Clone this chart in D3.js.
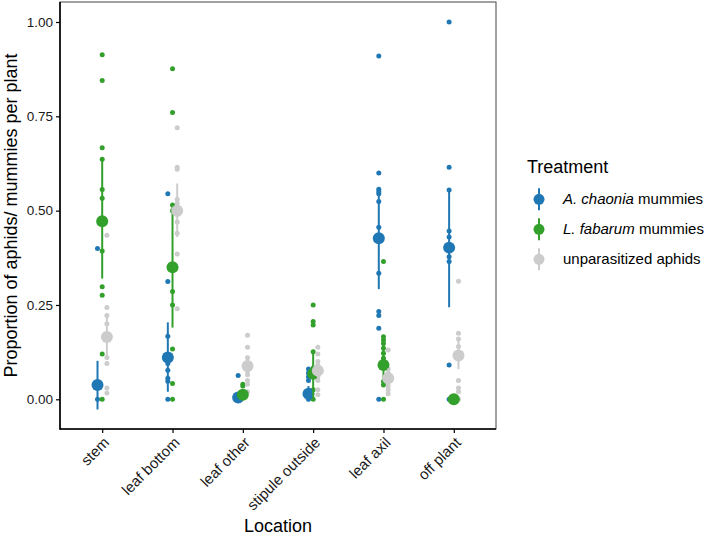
<!DOCTYPE html>
<html>
<head>
<meta charset="utf-8">
<script src="https://cdn.jsdelivr.net/npm/d3@7"></script>
<style>
  body { margin: 0; background: #fff; }
  text { font-family: "Liberation Sans", Arial, sans-serif; }
</style>
</head>
<body>
<script>
var locations = ["stem", "leaf bottom", "leaf other", "stipule outside", "leaf axil", "off plant"];
var treatments = ["A. chaonia mummies", "L. fabarum mummies", "unparasitized aphids"];
var yTicks = [0, 0.25, 0.5, 0.75, 1];

// raw proportions per plant, one list per location
var chaoniaPoints = [
  [0.40, 0],
  [0.545, 0.312, 0.167, 0.095, 0.077, 0.056, 0.048, 0],
  [0.063, 0, 0],
  [0.08, 0.07, 0.06, 0.05, 0],
  [0.91, 0.60, 0.557, 0.55, 0.545, 0.524, 0.456, 0.334, 0.233, 0.222, 0.188, 0],
  [1.0, 0.615, 0.555, 0.446, 0.43, 0.378, 0.365, 0.091, 0]
];
var fabarumPoints = [
  [0.913, 0.845, 0.667, 0.636, 0.556, 0.533, 0.393, 0.298, 0.276, 0.12, 0],
  [0.876, 0.76, 0.515, 0.5, 0.286, 0.25, 0.133, 0.042, 0],
  [0.04, 0.035, 0.02, 0.01, 0.005],
  [0.25, 0.206, 0.197, 0.126, 0.083, 0.025, 0],
  [0.365, 0.166, 0.157, 0.148, 0.135, 0.122, 0.109, 0.047, 0.038, 0],
  [0, 0]
];
var unparaPoints = [
  [0.435, 0.243, 0.222, 0.2, 0.111, 0.095, 0.03, 0.017],
  [0.72, 0.615, 0.61, 0.53, 0.52, 0.51, 0.49, 0.47, 0.44, 0.385, 0.24],
  [0.17, 0.138, 0.11, 0.075, 0.065, 0.05, 0.04, 0.02],
  [0.138, 0.12, 0.1, 0.09, 0.06, 0.05, 0.025, 0.012],
  [0.131, 0.08, 0.07, 0.045, 0.035, 0.025, 0.015],
  [0.313, 0.175, 0.16, 0.14, 0.05, 0.03, 0.02, 0]
];

// means with error bar ends
var chaoniaMean = [0.038, 0.111, 0.005, 0.015, 0.427, 0.402];
var chaoniaLo   = [-0.027, 0.02, -0.002, -0.005, 0.292, 0.244];
var chaoniaHi   = [0.102, 0.204, 0.012, 0.035, 0.556, 0.557];
var fabarumMean = [0.472, 0.35, 0.012, 0.068, 0.091, 0];
var fabarumLo   = [0.32, 0.19, 0.003, 0.005, 0.04, 0];
var fabarumHi   = [0.634, 0.52, 0.022, 0.128, 0.168, 0];
var unparaMean  = [0.165, 0.5, 0.088, 0.076, 0.056, 0.116];
var unparaLo    = [0.105, 0.43, 0.06, 0.05, 0.03, 0.08];
var unparaHi    = [0.225, 0.572, 0.116, 0.102, 0.082, 0.155];

var colors = ["#1f78b4", "#33a02c", "#cccccc"];

drawChart();

function drawChart() {
  var groups = [
    {pts: chaoniaPoints, mean: chaoniaMean, lo: chaoniaLo, hi: chaoniaHi},
    {pts: fabarumPoints, mean: fabarumMean, lo: fabarumLo, hi: fabarumHi},
    {pts: unparaPoints, mean: unparaMean, lo: unparaLo, hi: unparaHi}
  ];

  var width = 709, height = 536,
      pLeft = 60, pRight = 496, pTop = 2, pBottom = 429;

  var svg = d3.select("body").append("svg")
      .attr("width", width)
      .attr("height", height);

  var x = d3.scalePoint().domain(locations).range([pLeft, pRight]).padding(0.6);
  var y = d3.scaleLinear().domain([-0.0787, 1.053]).range([pBottom, pTop]);
  var dodge = x.step() * 0.2 / 3;

  svg.append("rect")
      .attr("x", pLeft).attr("y", pTop)
      .attr("width", pRight - pLeft).attr("height", pBottom - pTop)
      .attr("fill", "#fff").attr("stroke", "#444").attr("stroke-width", 1);

  // raw points
  groups.forEach(function(g, gi) {
    var flat = [];
    g.pts.forEach(function(list, li) {
      list.forEach(function(v) { flat.push({loc: locations[li], v: v}); });
    });
    svg.append("g").selectAll("circle")
      .data(flat)
    .enter().append("circle")
      .attr("cx", function(d) { return x(d.loc) + (gi - 1) * dodge; })
      .attr("cy", function(d) { return y(d.v); })
      .attr("r", 2.5)
      .attr("fill", colors[gi]);
  });

  // means + error bars
  groups.forEach(function(g, gi) {
    var lay = svg.append("g");
    var rows = locations.map(function(l, i) {
      return {loc: l, m: g.mean[i], lo: g.lo[i], hi: g.hi[i]};
    });
    lay.selectAll("line")
      .data(rows)
    .enter().append("line")
      .attr("x1", function(d) { return x(d.loc) + (gi - 1) * dodge; })
      .attr("x2", function(d) { return x(d.loc) + (gi - 1) * dodge; })
      .attr("y1", function(d) { return y(d.lo); })
      .attr("y2", function(d) { return y(d.hi); })
      .attr("stroke", colors[gi])
      .attr("stroke-width", 2);
    lay.selectAll("circle")
      .data(rows)
    .enter().append("circle")
      .attr("cx", function(d) { return x(d.loc) + (gi - 1) * dodge; })
      .attr("cy", function(d) { return y(d.m); })
      .attr("r", 6)
      .attr("fill", colors[gi]);
  });

  // axes
  var yAxis = svg.append("g")
      .attr("transform", "translate(" + pLeft + ",0)")
      .call(d3.axisLeft(y).tickValues(yTicks).tickFormat(d3.format(".2f")).tickSize(4).tickPadding(3));
  var xAxis = svg.append("g")
      .attr("transform", "translate(0," + pBottom + ")")
      .call(d3.axisBottom(x).tickSize(4).tickPadding(3));

  [yAxis, xAxis].forEach(function(a) {
    a.attr("font-family", '"Liberation Sans", Arial, sans-serif');
    a.select(".domain").remove();
    a.selectAll(".tick line").attr("stroke", "#000").attr("stroke-width", 1.2);
    a.selectAll(".tick text").attr("fill", "#1a1a1a");
  });
  yAxis.attr("font-size", 13.5);
  xAxis.attr("font-size", 15);
  svg.append("line").attr("x1", pLeft).attr("x2", pLeft).attr("y1", pTop).attr("y2", pBottom + 0.5)
      .attr("stroke", "#000").attr("stroke-width", 1.6);
  svg.append("line").attr("x1", pLeft - 0.5).attr("x2", pRight).attr("y1", pBottom).attr("y2", pBottom)
      .attr("stroke", "#000").attr("stroke-width", 1.6);

  xAxis.selectAll(".tick text")
      .attr("text-anchor", "end")
      .attr("x", 0)
      .attr("y", 7)
      .attr("dy", "0.71em")
      .attr("transform", "rotate(-45 0 7)");

  svg.append("text")
      .attr("transform", "translate(17," + ((pTop + pBottom) / 2) + ") rotate(-90)")
      .attr("text-anchor", "middle")
      .style("font-size", "18px")
      .text("Proportion of aphids/ mummies per plant");

  svg.append("text")
      .attr("x", (pLeft + pRight) / 2).attr("y", 532)
      .attr("text-anchor", "middle")
      .style("font-size", "18px")
      .text("Location");

  // legend
  var legend = svg.append("g");
  legend.append("text").attr("x", 527).attr("y", 173).style("font-size", "18px").text("Treatment");
  var keyY = [199.3, 229.3, 259.3];
  treatments.forEach(function(t, i) {
    var k = legend.append("g").attr("transform", "translate(539," + keyY[i] + ")");
    k.append("line").attr("y1", -11).attr("y2", 11).attr("stroke", colors[i]).attr("stroke-width", 2);
    k.append("circle").attr("r", 5.5).attr("fill", colors[i]);
    var txt = legend.append("text").attr("x", 563).attr("y", keyY[i] + 5).style("font-size", "15px");
    if (i < 2) {
      var parts = t.split(" mummies");
      txt.append("tspan").style("font-style", "italic").text(parts[0]);
      txt.append("tspan").text(" mummies");
    } else {
      txt.text(t);
    }
  });
}
</script>
</body>
</html>
